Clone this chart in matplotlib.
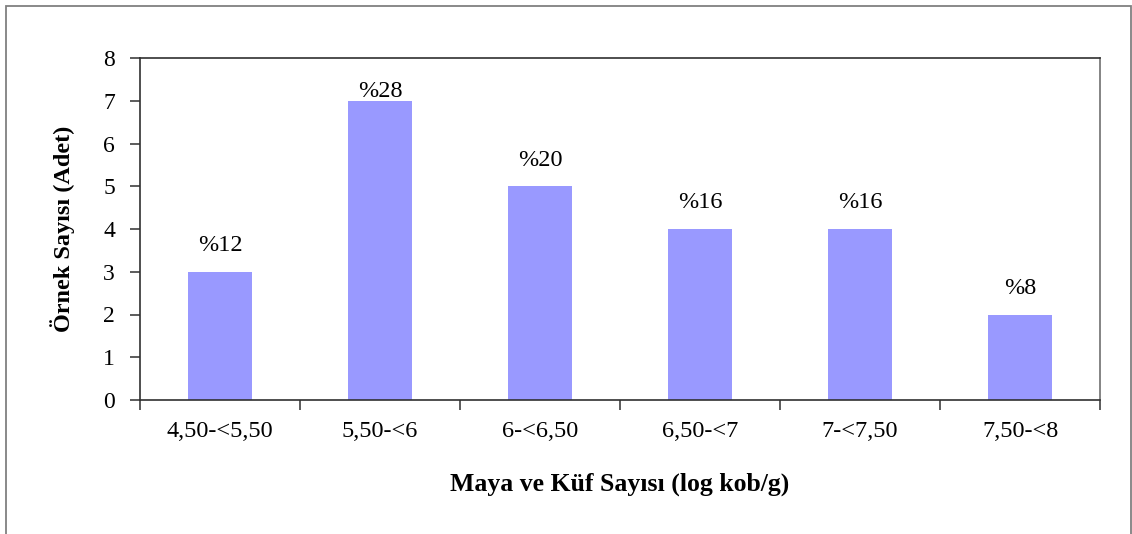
import matplotlib
matplotlib.use("Agg")
import matplotlib.pyplot as plt
from matplotlib.patches import Rectangle

categories = ["4,50-<5,50", "5,50-<6", "6-<6,50", "6,50-<7", "7-<7,50", "7,50-<8"]
counts = [3, 7, 5, 4, 4, 2]
percent_labels = ["%12", "%28", "%20", "%16", "%16", "%8"]
y_ticks = [0, 1, 2, 3, 4, 5, 6, 7, 8]

plt.rcParams["font.family"] = ["Liberation Serif", "DejaVu Serif"]

W, H = 1132, 534
fig = plt.figure(figsize=(W / 100, H / 100), dpi=100)

# outer chart-area frame (open at the bottom edge)
fig.patches.append(Rectangle((6 / W, -0.05), (1131 - 6) / W, (H - 6) / H + 0.05,
                             transform=fig.transFigure, fill=False,
                             edgecolor="#808080", linewidth=1.3))

ax = fig.add_axes([140 / W, 1 - 400 / H, 960 / W, 342 / H])

x = list(range(len(categories)))
ax.bar(x, counts, width=0.4, color="#9999FF", zorder=2)

ax.set_xlim(-0.5, len(categories) - 0.5)
ax.set_ylim(0, 8)
ax.set_yticks(y_ticks)
ax.set_xticks(x)
ax.set_xticklabels(categories)
ax.set_xticks([i - 0.5 for i in range(len(categories) + 1)], minor=True)
ax.tick_params(axis="x", which="major", length=0, pad=15, labelsize=17.5)
ax.tick_params(axis="x", which="minor", length=7, width=1.2, color="#404040")
ax.tick_params(axis="y", length=7, width=1.2, color="#404040", labelsize=17, pad=11)

for side in ["left", "bottom", "top"]:
    ax.spines[side].set_color("#303030")
    ax.spines[side].set_linewidth(1.2)
ax.spines["right"].set_color("#707070")
ax.spines["right"].set_linewidth(1.2)

ymax_label = 7.08
for xi, v, lab in zip(x, counts, percent_labels):
    ax.text(xi, min(v + 0.48, ymax_label), lab, ha="center", va="baseline",
            fontsize=17.5, color="black")

ax.set_ylabel("Örnek Sayısı (Adet)", fontsize=17.5, fontweight="bold", labelpad=20)
ax.set_xlabel("Maya ve Küf Sayısı (log kob/g)", fontsize=18.5, fontweight="bold", labelpad=22)

fig.savefig("out.png", dpi=100)
